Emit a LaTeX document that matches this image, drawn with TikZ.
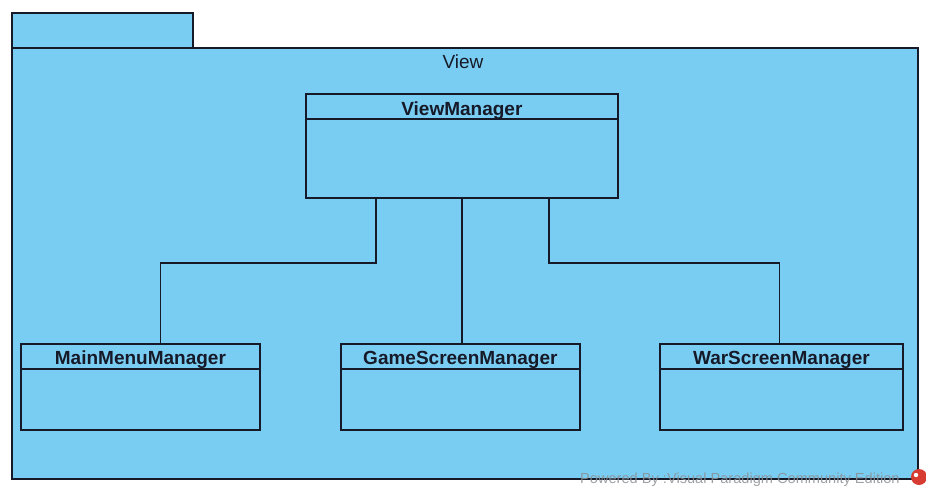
\documentclass[tikz,border=0pt]{standalone}
\usepackage{fontspec}
\setmainfont{Liberation Sans}
\definecolor{pkgfill}{RGB}{122,205,242}
\definecolor{edge}{RGB}{22,26,40}
\definecolor{wmark}{RGB}{140,145,150}
\definecolor{logored}{RGB}{214,60,50}
\begin{document}
\begin{tikzpicture}[x=1pt,y=-1pt,
  outline/.style={draw=edge,line width=1.8pt,fill=pkgfill},
  classbox/.style={outline,anchor=north west,inner sep=0pt},
  classname/.style={anchor=base,font=\fontsize{19}{22}\selectfont\bfseries,text=edge,inner sep=0pt},
  link/.style={draw=edge,line width=1.6pt}]
\useasboundingbox (0,0) rectangle (926,487);
\clip (0,0) rectangle (926,487);

% package frame: tab and body
\node[classbox,minimum width=181pt,minimum height=35pt] (tab) at (11,12) {};
\node[classbox,minimum width=906pt,minimum height=431pt] (pkg) at (11,47) {};
\node[anchor=base,font=\fontsize{19}{22}\selectfont,text=edge,inner sep=0pt] (pkgname) at (463,69) {View};

% classes (name compartment 26pt high)
\node[classbox,minimum width=312pt,minimum height=104pt] (vm) at (305,93) {};
\node[classname] (vmname) at ([yshift=-22pt]vm.north) {ViewManager};
\draw[link] ([yshift=-26pt]vm.north west) -- ([yshift=-26pt]vm.north east);

\node[classbox,minimum width=239pt,minimum height=86pt] (mm) at (20,343) {};
\node[classname] (mmname) at ([yshift=-21pt]mm.north) {MainMenuManager};
\draw[link] ([yshift=-26pt]mm.north west) -- ([yshift=-26pt]mm.north east);

\node[classbox,minimum width=239pt,minimum height=86pt] (gs) at (340,343) {};
\node[classname] (gsname) at ([yshift=-21pt]gs.north) {GameScreenManager};
\draw[link] ([yshift=-26pt]gs.north west) -- ([yshift=-26pt]gs.north east);

\node[classbox,minimum width=243pt,minimum height=86pt] (ws) at (659,343) {};
\node[classname] (wsname) at ([yshift=-21pt]ws.north) {WarScreenManager};
\draw[link] ([yshift=-26pt]ws.north west) -- ([yshift=-26pt]ws.north east);

% connectors
\draw[link] ([xshift=-86pt]vm.south) -- ++(0,64) -| ([xshift=20pt]mm.north);
\draw[link] (vm.south) -- (vm.south |- gs.north);
\draw[link] ([xshift=87pt]vm.south) -- ++(0,64) -| ([xshift=-2pt]ws.north);

% footer
\node[anchor=base west,font=\fontsize{14.6}{16}\selectfont,text=wmark,inner sep=0pt,opacity=0.85] (wm) at (580,483) {Powered By :Visual Paradigm Community Edition};
\fill[logored] (919,477) circle (8pt);
\fill[white] (916,475) circle (2.2pt);
\end{tikzpicture}
\end{document}
